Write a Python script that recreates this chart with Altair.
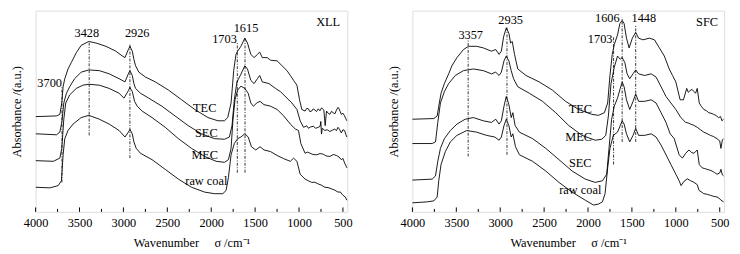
import altair as alt
import pandas as pd

# ---------------- data (wavenumber, absorbance a.u.) ----------------
XLL_TEC = [(3998,98.0),(3762,98.7),(3724,100.3),(3702,112.0),(3687,128.7),(3668,137.0),(3631,147.0),
           (3593,153.7),(3537,163.7),(3481,171.3),(3394,175.3),(3312,173.7),(3199,170.3),(3087,165.3),
           (3012,160.3),(2982,158.7),(2944,167.0),(2926,170.3),(2899,165.3),(2881,157.0),(2862,150.3),
           (2824,143.7),(2749,138.7),(2637,133.7),(2487,125.3),(2337,115.3),(2187,105.3),(2037,97.0),
           (1924,93.7),(1849,93.7),(1812,97.0),(1774,112.0),(1744,145.3),(1718,162.0),(1699,165.3),
           (1662,170.3),(1617,178.7),(1587,173.7),(1549,162.0),(1512,158.7),(1474,162.0),(1448,164.3),
           (1418,158.7),(1362,158.7),(1324,156.0),(1249,155.3),(1193,150.3),(1137,145.3),(1099,140.3),
           (1062,135.3),(1024,130.3),(994,115.3),(968,105.3),(931,103.7),(912,106.5),(893,106.0),
           (875,103.0),(856,103.7),(838,106.0),(818,104.7),(800,103.2),(781,106.0),(762,104.0),
           (743,107.0),(717,104.7),(702,88.7),(687,103.7),(668,101.5),(649,100.3),(630,103.5),
           (612,102.0),(590,101.0),(574,104.7),(555,107.5),(544,106.0),(530,103.0),(518,100.3),
           (500,101.5),(481,98.7),(468,96.0),(455,93.7)]
XLL_SEC = [(3998,80.3),(3762,79.3),(3724,82.0),(3702,92.0),(3679,112.0),(3649,122.0),(3612,128.7),
           (3556,137.0),(3481,143.7),(3394,146.0),(3274,145.3),(3162,142.0),(3049,137.0),(2982,133.7),
           (2944,142.0),(2926,145.3),(2899,140.3),(2881,132.0),(2862,127.0),(2806,122.0),(2712,117.0),
           (2562,108.7),(2412,98.7),(2262,88.7),(2112,80.3),(1962,75.3),(1849,74.7),(1793,77.0),
           (1763,88.7),(1737,115.3),(1707,133.7),(1669,140.3),(1617,150.3),(1587,147.0),(1549,135.3),
           (1512,132.0),(1474,137.0),(1448,140.3),(1418,133.7),(1343,132.0),(1268,127.0),(1212,123.7),
           (1137,117.0),(1081,112.0),(1024,105.3),(987,93.7),(949,87.0),(912,88.5),(893,86.0),
           (865,87.5),(837,88.0),(810,86.0),(781,87.0),(760,88.0),(752,93.0),(744,80.0),(735,86.0),
           (706,83.7),(680,84.5),(649,82.7),(620,84.0),(593,85.3),(575,83.5),(556,87.0),(540,85.0),
           (518,81.3),(500,84.5),(481,83.7),(468,80.0),(455,77.0)]
XLL_MEC = [(3998,52.7),(3799,52.0),(3724,55.3),(3702,65.3),(3679,95.3),(3657,112.0),(3612,120.3),
           (3537,127.0),(3462,130.3),(3394,131.3),(3274,130.3),(3162,127.0),(3049,122.0),(2993,117.0),
           (2944,124.7),(2926,128.0),(2899,123.7),(2873,113.7),(2843,108.7),(2787,103.7),(2674,97.0),
           (2524,87.0),(2374,75.3),(2224,65.3),(2074,57.0),(1943,52.0),(1849,51.0),(1804,53.7),
           (1774,65.3),(1752,95.3),(1729,115.3),(1699,125.3),(1662,129.3),(1617,127.0),(1579,122.0),
           (1549,112.0),(1519,108.7),(1482,112.0),(1444,113.7),(1399,110.3),(1324,108.7),(1249,105.3),
           (1174,98.7),(1099,90.3),(1043,85.3),(1006,83.7),(979,70.3),(931,60.3),(900,61.5),(874,60.3),
           (840,59.0),(799,58.7),(760,60.0),(724,59.3),(690,57.5),(649,57.0),(610,59.0),(574,58.0),
           (545,56.5),(518,53.7),(500,55.0),(481,50.3),(468,48.0),(455,45.3)]
XLL_RAW = [(3998,25.3),(3837,24.7),(3743,27.0),(3706,32.0),(3687,58.7),(3668,75.3),(3631,83.7),
           (3574,90.3),(3481,97.0),(3394,99.3),(3274,95.3),(3162,90.3),(3049,83.7),(2982,77.0),
           (2944,82.0),(2926,84.7),(2899,80.3),(2881,72.0),(2854,65.3),(2806,60.3),(2674,53.7),
           (2524,43.7),(2374,33.7),(2224,25.3),(2074,20.3),(1962,18.7),(1868,18.7),(1831,22.0),
           (1804,35.3),(1774,58.7),(1737,70.3),(1699,75.3),(1662,77.0),(1617,80.3),(1579,77.0),
           (1542,67.0),(1493,63.7),(1444,67.0),(1399,63.7),(1324,62.0),(1249,58.0),(1174,54.7),
           (1099,52.0),(1062,55.3),(1024,52.0),(987,38.7),(931,33.7),(895,32.0),(856,30.3),(820,30.5),
           (781,28.7),(745,27.5),(706,25.3),(670,25.0),(631,23.7),(595,22.5),(556,20.3),(530,20.5),
           (499,17.0),(475,15.5),(455,12.0)]

SFC_TEC = [(4000,95.3),(3756,96.0),(3718,98.7),(3700,108.7),(3674,122.0),(3636,132.0),(3587,142.0),
           (3550,150.3),(3493,158.7),(3418,167.0),(3362,170.3),(3268,170.3),(3193,168.7),(3100,165.3),
           (3051,167.0),(3013,162.0),(2987,165.3),(2961,180.3),(2931,189.3),(2901,183.7),(2882,173.7),
           (2863,175.3),(2837,162.0),(2800,147.0),(2706,140.3),(2556,133.7),(2406,125.3),(2256,113.7),
           (2106,105.3),(1956,100.3),(1881,99.3),(1814,102.0),(1776,112.0),(1750,140.3),(1724,162.0),
           (1701,172.0),(1664,182.0),(1637,193.7),(1611,197.0),(1589,193.7),(1562,178.7),(1532,168.7),
           (1495,178.7),(1457,184.7),(1424,178.7),(1375,177.0),(1300,178.7),(1243,177.0),(1187,168.7),
           (1131,160.3),(1075,147.0),(1037,140.3),(1000,133.7),(951,115.3),(913,115.3),(876,127.0),
           (858,123.0),(838,124.7),(815,126.0),(793,123.7),(775,122.0),(756,127.0),(733,112.0),
           (711,108.7),(695,107.0),(681,105.3),(650,104.0),(625,102.0),(600,101.5),(568,100.3),
           (540,99.0),(512,97.0),(490,98.0),(475,93.7),(456,95.3)]
SFC_MEC = [(4000,70.3),(3775,70.3),(3737,72.0),(3711,92.0),(3681,112.0),(3636,123.7),(3587,132.0),
           (3512,140.3),(3418,145.3),(3306,147.0),(3193,145.3),(3100,142.0),(3051,143.7),(3013,140.3),
           (2987,143.7),(2957,155.3),(2931,160.3),(2901,155.3),(2875,145.3),(2848,137.0),(2800,128.7),
           (2668,122.0),(2518,113.7),(2368,102.0),(2218,88.7),(2068,78.7),(1918,73.7),(1843,74.7),
           (1798,78.7),(1768,98.7),(1738,132.0),(1701,148.7),(1664,160.3),(1633,157.0),(1611,158.7),
           (1581,153.7),(1555,142.0),(1525,137.0),(1487,142.0),(1457,146.0),(1424,142.0),(1356,140.3),
           (1281,142.0),(1225,138.7),(1168,128.7),(1112,118.7),(1056,112.0),(1000,105.3),(943,97.0),
           (887,92.0),(860,91.5),(831,90.3),(795,89.0),(756,87.0),(720,84.5),(681,82.0),(645,80.5),
           (606,78.7),(570,77.5),(531,75.3),(500,73.0),(486,65.3),(470,74.0),(456,75.3)]
SFC_SEC = [(4000,32.7),(3775,33.7),(3737,37.0),(3711,52.0),(3681,65.3),(3636,75.3),(3568,83.7),
           (3493,90.3),(3400,95.3),(3306,97.0),(3193,93.7),(3100,92.0),(3051,95.3),(3013,90.3),
           (2987,93.7),(2957,108.7),(2931,118.7),(2901,110.3),(2875,97.0),(2856,102.0),(2830,88.7),
           (2781,82.0),(2631,75.3),(2481,65.3),(2331,53.7),(2181,42.0),(2031,33.7),(1918,30.3),
           (1836,32.0),(1787,38.7),(1761,65.3),(1731,95.3),(1701,108.7),(1664,117.0),(1633,127.0),
           (1611,133.7),(1589,128.7),(1562,115.3),(1525,105.3),(1487,113.7),(1457,121.3),(1424,113.7),
           (1356,113.7),(1281,115.3),(1225,112.0),(1168,102.0),(1112,92.0),(1064,80.3),(1018,75.3),
           (962,58.7),(925,55.3),(887,60.3),(850,63.7),(820,61.0),(793,60.3),(756,63.7),(733,48.7),
           (700,45.3),(670,44.5),(643,43.7),(615,43.0),(587,42.0),(560,40.5),(531,38.7),(500,40.0),
           (486,43.7),(470,38.0),(456,37.0)]
SFC_RAW = [(4000,9.3),(3831,10.3),(3756,11.3),(3718,15.3),(3700,32.0),(3674,48.7),(3625,62.0),
           (3568,72.0),(3493,78.7),(3381,83.7),(3268,82.0),(3156,78.7),(3062,77.0),(3013,73.7),
           (2987,77.0),(2957,88.7),(2931,95.3),(2901,88.7),(2875,77.0),(2856,80.3),(2826,67.0),
           (2781,58.7),(2631,52.0),(2481,42.0),(2331,30.3),(2181,20.3),(2031,12.0),(1937,7.0),
           (1881,8.0),(1836,10.3),(1806,18.7),(1776,45.3),(1750,65.3),(1712,78.7),(1664,82.0),
           (1633,88.7),(1611,93.7),(1589,90.3),(1562,80.3),(1525,72.0),(1487,78.7),(1457,86.0),
           (1424,78.7),(1356,78.7),(1281,80.3),(1225,77.0),(1168,68.7),(1112,58.7),(1056,48.7),
           (1000,38.7),(962,32.0),(940,27.0),(906,31.5),(870,34.0),(831,32.0),(795,30.5),(756,28.0),
           (735,22.0),(700,20.0),(681,18.7),(640,18.0),(606,17.0),(570,16.0),(531,15.3),(500,13.5),
           (486,12.0),(456,10.3)]

CURVE_NAMES = ["TEC", "SEC", "MEC", "raw coal"]

# peak markers: position, top, bottom, label text, label position
XLL_PEAK_WN = [3700, 3390, 2926, 1703, 1615]
XLL_PEAK_TOP = [130.0, 175.3, 172.0, 173.7, 180.0]
XLL_PEAK_BOTTOM = [30.3, 78.7, 55.3, 40.3, 40.3]
XLL_PEAK_TEXT = ["3700", "3428", "2926", "1703", "1615"]
XLL_PEAK_TEXT_WN = [3840, 3417, 2843, 1849, 1604]
XLL_PEAK_TEXT_AB = [133.0, 183.7, 183.7, 177.7, 188.7]

SFC_PEAK_WN = [3365, 2923, 1709, 1611, 1457]
SFC_PEAK_TOP = [177.0, 190.3, 180.0, 200.0, 192.0]
SFC_PEAK_BOTTOM = [57.0, 58.7, 48.7, 72.0, 72.0]
SFC_PEAK_TEXT = ["3357", "2935", "1703", "1606", "1448"]
SFC_PEAK_TEXT_WN = [3336, 2881, 1862, 1780, 1364]
SFC_PEAK_TEXT_AB = [182.0, 197.0, 177.7, 199.3, 199.3]

XLL_LABEL_TEXT = ["TEC", "SEC", "MEC", "raw coal", "XLL"]
XLL_LABEL_WN = [2074, 2056, 2074, 2056, 668]
XLL_LABEL_AB = [106.3, 81.3, 58.0, 32.0, 195.3]

SFC_LABEL_TEXT = ["TEC", "MEC", "SEC", "raw coal", "SFC"]
SFC_LABEL_WN = [2088, 2106, 2088, 2088, 644]
SFC_LABEL_AB = [106.0, 77.0, 50.3, 22.7, 195.3]

MAJOR_TICKS = [4000, 3500, 3000, 2500, 2000, 1500, 1000, 500]
MINOR_TICKS = [3750, 3250, 2750, 2250, 1750, 1250, 750]

X_TITLE = "Wavenumber\u00a0\u00a0\u00a0\u00a0\u00a0σ\u00a0/cm⁻¹"
Y_TITLE = "Absorbance /(a.u.)"

# ---------------- chart ----------------
FONT = "Liberation Serif"
FS = 12.5
W, H = 316, 204


def curves_df(curves):
    rows = []
    for name, pairs in curves:
        for wn, ab in pairs:
            rows.append({"series": name, "wn": wn, "ab": ab})
    return pd.DataFrame(rows)


def panel(curves, pk_wn, pk_top, pk_bot, pk_text, pk_twn, pk_tab, lb_text, lb_wn, lb_ab):
    xs = alt.Scale(domain=[450, 4000], reverse=True, nice=False, zero=False)
    ys = alt.Scale(domain=[0, 207], nice=False, zero=False)
    x = alt.X("wn:Q", scale=xs, axis=alt.Axis(
        values=MAJOR_TICKS, ticks=False, tickSize=0, grid=False, domain=False,
        labelFlush=False, labelPadding=5, labelFont=FONT, labelFontSize=FS, labelColor="black",
        title=X_TITLE, titleFont=FONT, titleFontSize=FS, titleFontWeight="normal",
        titleColor="black", titlePadding=8, format="d"))
    y = alt.Y("ab:Q", scale=ys, axis=alt.Axis(
        labels=False, ticks=False, tickSize=0, grid=False, domain=False,
        title=Y_TITLE, titleFont=FONT, titleFontSize=FS, titleFontWeight="normal",
        titleColor="black", titlePadding=12))

    lines = alt.Chart(curves_df(curves)).mark_line(color="black", strokeWidth=0.9).encode(
        x=x, y=y, detail="series:N")

    peaks = pd.DataFrame({"wn": pk_wn, "ab": pk_bot, "ab2": pk_top})
    rules = alt.Chart(peaks).mark_rule(color="black", strokeWidth=0.8,
                                       strokeDash=[3, 1.5, 1, 1.5]).encode(
        x=x, y=y, y2="ab2:Q")

    ptxt = pd.DataFrame({"wn": pk_twn, "ab": pk_tab, "t": pk_text})
    ptexts = alt.Chart(ptxt).mark_text(font=FONT, fontSize=FS, color="black",
                                       align="center", baseline="middle").encode(
        x=x, y=y, text="t:N")

    ltxt = pd.DataFrame({"wn": lb_wn, "ab": lb_ab, "t": lb_text})
    ltexts = alt.Chart(ltxt).mark_text(font=FONT, fontSize=FS, color="black",
                                       align="center", baseline="middle").encode(
        x=x, y=y, text="t:N")

    major = alt.Chart(pd.DataFrame({"wn": MAJOR_TICKS})).mark_rule(
        color="black", strokeWidth=1).encode(x=x, y=alt.value(H), y2=alt.value(H - 4.5))
    minor = alt.Chart(pd.DataFrame({"wn": MINOR_TICKS})).mark_rule(
        color="black", strokeWidth=1).encode(x=x, y=alt.value(H), y2=alt.value(H - 3))

    return alt.layer(lines, rules, ptexts, ltexts, major, minor).properties(width=W, height=H)


left = panel(list(zip(CURVE_NAMES, [XLL_TEC, XLL_SEC, XLL_MEC, XLL_RAW])),
             XLL_PEAK_WN, XLL_PEAK_TOP, XLL_PEAK_BOTTOM, XLL_PEAK_TEXT,
             XLL_PEAK_TEXT_WN, XLL_PEAK_TEXT_AB, XLL_LABEL_TEXT, XLL_LABEL_WN, XLL_LABEL_AB)
right = panel(list(zip(CURVE_NAMES, [SFC_TEC, SFC_SEC, SFC_MEC, SFC_RAW])),
              SFC_PEAK_WN, SFC_PEAK_TOP, SFC_PEAK_BOTTOM, SFC_PEAK_TEXT,
              SFC_PEAK_TEXT_WN, SFC_PEAK_TEXT_AB, SFC_LABEL_TEXT, SFC_LABEL_WN, SFC_LABEL_AB)

chart = alt.hconcat(left, right, spacing=34).properties(
    padding={"left": 2, "top": 0, "right": 2, "bottom": 0}
).configure_view(stroke="#555555", strokeWidth=1).configure(background="white")

chart.save("out.html", embed_options={"renderer": "svg", "actions": False})
